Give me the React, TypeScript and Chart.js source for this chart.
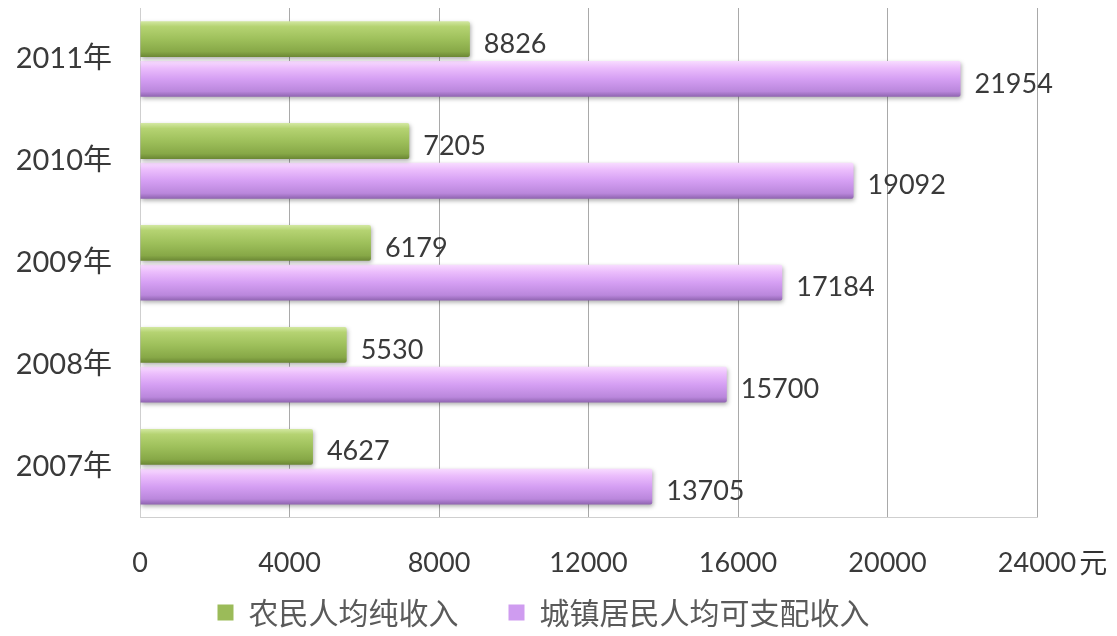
import React, { useEffect, useRef } from "react";
import { Chart, registerables } from "chart.js";

Chart.register(...registerables);

const categories = ["2011年", "2010年", "2009年", "2008年", "2007年"];
const ruralIncome = [8826, 7205, 6179, 5530, 4627];
const urbanIncome = [21954, 19092, 17184, 15700, 13705];
const seriesNames = ["农民人均纯收入", "城镇居民人均可支配收入"];
const xMax = 24000;
const xStep = 4000;
const unitLabel = "元";

const seriesColors = ["#9bbb59", "#cf9cf0"];
const gradientStops: [number, string][][] = [
  [
    [0, "#d3e8a2"],
    [0.15, "#b5d372"],
    [0.5, "#9ec05b"],
    [0.85, "#87a847"],
    [1, "#6b8734"],
  ],
  [
    [0, "#f8dcff"],
    [0.2, "#ebbdfc"],
    [0.5, "#d59ff3"],
    [0.85, "#ba87dc"],
    [1, "#8f64b0"],
  ],
];

const NUM_FONT = 'Lato, "Noto Sans CJK SC", sans-serif';
const CJK_FONT = '"Noto Sans CJK SC", sans-serif';
const X_TICK_PAD = 29;
const X_TICK_SIZE = 27;

const barStylePlugin = {
  id: "barStyle",
  beforeDatasetDraw(chart: any, args: any) {
    const ctx = chart.ctx;
    ctx.save();
    ctx.shadowColor = "rgba(0,0,0,0.32)";
    ctx.shadowBlur = 4;
    ctx.shadowOffsetX = 1;
    ctx.shadowOffsetY = 2;
    const stops = gradientStops[args.index];
    args.meta.data.forEach((el: any) => {
      const { y, height } = el.getProps(["y", "height"], true);
      const g = ctx.createLinearGradient(0, y - height / 2, 0, y + height / 2);
      stops.forEach(([o, c]) => g.addColorStop(o, c));
      el.options = { ...el.options, backgroundColor: g };
    });
  },
  afterDatasetDraw(chart: any) {
    chart.ctx.restore();
  },
};

const valueLabelPlugin = {
  id: "valueLabels",
  afterDatasetsDraw(chart: any) {
    const ctx = chart.ctx;
    ctx.save();
    ctx.font = `27px ${NUM_FONT}`;
    ctx.fillStyle = "#3a3a3a";
    ctx.textAlign = "left";
    ctx.textBaseline = "middle";
    chart.data.datasets.forEach((ds: any, di: number) => {
      const meta = chart.getDatasetMeta(di);
      meta.data.forEach((el: any, i: number) => {
        const { x, y } = el.getProps(["x", "y"], true);
        ctx.fillText(String(ds.data[i]), x + 14, y + 5);
      });
    });
    ctx.restore();
  },
};

const unitPlugin = {
  id: "unitLabel",
  afterDraw(chart: any) {
    const ctx = chart.ctx;
    const xs = chart.scales.x;
    ctx.save();
    ctx.font = `${X_TICK_SIZE}px ${NUM_FONT}`;
    const half = ctx.measureText(String(xMax)).width / 2;
    const px = xs.getPixelForValue(xMax) + half + 3;
    const py = xs.top + X_TICK_PAD + (X_TICK_SIZE * 1.2) / 2;
    ctx.font = `28px ${CJK_FONT}`;
    ctx.fillStyle = "#333";
    ctx.textAlign = "left";
    ctx.textBaseline = "middle";
    ctx.fillText(unitLabel, px, py);
    ctx.restore();
  },
};

// place the legend row below the axis labels, centred like the original
const legendPlacePlugin = {
  id: "legendPlace",
  afterLayout(chart: any) {
    const lg = chart.legend;
    if (!lg) return;
    lg.left = 42;
    lg.top = chart.chartArea.bottom + 30;
    lg.bottom = chart.height;
    lg.height = lg.bottom - lg.top;
  },
};

export default function App() {
  const canvasRef = useRef<HTMLCanvasElement | null>(null);

  useEffect(() => {
    if (!canvasRef.current) return;
    const chart = new Chart(canvasRef.current, {
      type: "bar",
      data: {
        labels: categories,
        datasets: [
          {
            label: seriesNames[0],
            data: ruralIncome,
            backgroundColor: seriesColors[0],
            borderWidth: 0,
            borderRadius: 2,
            categoryPercentage: 0.78,
            barPercentage: 0.9,
          },
          {
            label: seriesNames[1],
            data: urbanIncome,
            backgroundColor: seriesColors[1],
            borderWidth: 0,
            borderRadius: 2,
            categoryPercentage: 0.78,
            barPercentage: 0.9,
          },
        ],
      },
      options: {
        indexAxis: "y",
        animation: false,
        responsive: true,
        maintainAspectRatio: false,
        layout: { padding: { left: 0, right: 72, top: 0, bottom: 0 } },
        scales: {
          x: {
            min: 0,
            max: xMax,
            ticks: {
              stepSize: xStep,
              padding: X_TICK_PAD,
              color: "#3a3a3a",
              font: { family: NUM_FONT, size: X_TICK_SIZE },
              maxRotation: 0,
              callback: (v: any) => String(v),
            },
            grid: {
              drawTicks: false,
              color: (c: any) => (c.tick && c.tick.value === 0 ? "#d0d0d0" : "#a9a9a9"),
              lineWidth: 1,
            },
            border: { display: true, color: "#cfcfcf" },
          },
          y: {
            ticks: {
              padding: 28,
              color: "#3a3a3a",
              font: { family: NUM_FONT, size: 29 },
            },
            grid: { display: false, drawTicks: false },
            border: { display: true, color: "#cfcfcf" },
            afterFit: (scale: any) => {
              scale.width = 132;
              scale.paddingTop = 0;
              scale.paddingBottom = 0;
            },
          },
        },
        plugins: {
          legend: {
            position: "bottom",
            maxHeight: 20,
            labels: {
              boxWidth: 16,
              boxHeight: 16,
              padding: 50,
              color: "#5a5a5a",
              font: { family: CJK_FONT, size: 30 },
            },
          },
          tooltip: { enabled: false },
        },
      },
      plugins: [barStylePlugin, valueLabelPlugin, unitPlugin, legendPlacePlugin],
    });
    return () => chart.destroy();
  }, []);

  return (
    <div style={{ position: "relative", width: "100%", height: 620 }}>
      <canvas ref={canvasRef} />
    </div>
  );
}
